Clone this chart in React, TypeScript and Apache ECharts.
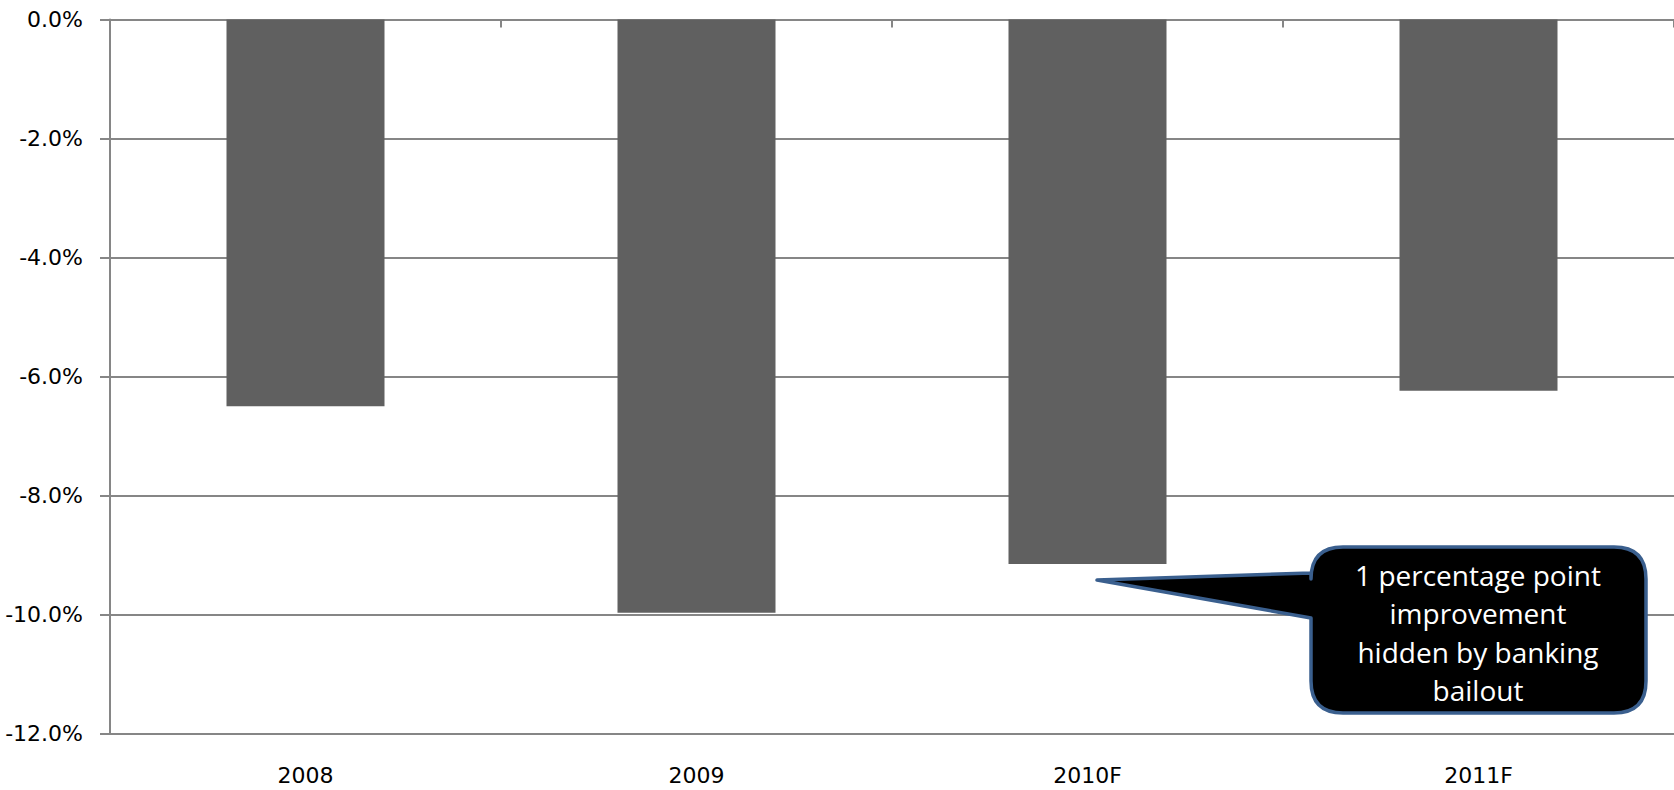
import React, { useEffect, useRef } from "react";
import * as echarts from "echarts";

// Budget balance by year, % of GDP
const categories: string[] = ["2008", "2009", "2010F", "2011F"];
const balance: number[] = [-6.5, -9.97, -9.15, -6.24];
const yTicks = { min: -12, max: 0, interval: 2 };
const calloutLines: string[] = [
  "1 percentage point",
  "improvement",
  "hidden by banking",
  "bailout",
];

// Speech-bubble outline: rounded box with a pointer toward the 2010F bar
function bubblePath(): string {
  const x0 = 1311, x1 = 1646, y0 = 547, y1 = 713, r = 32;
  const tipX = 1097, tipY = 580, baseTop = 573, baseBottom = 618;
  return [
    `M ${x0 + r} ${y0}`,
    `L ${x1 - r} ${y0}`,
    `Q ${x1} ${y0} ${x1} ${y0 + r}`,
    `L ${x1} ${y1 - r}`,
    `Q ${x1} ${y1} ${x1 - r} ${y1}`,
    `L ${x0 + r} ${y1}`,
    `Q ${x0} ${y1} ${x0} ${y1 - r}`,
    `L ${x0} ${baseBottom}`,
    `L ${tipX} ${tipY}`,
    `L ${x0} ${baseTop}`,
    `L ${x0} ${y0 + r}`,
    `Q ${x0} ${y0} ${x0 + r} ${y0}`,
    "Z",
  ].join(" ");
}

let shapeRegistered = false;

export default function App() {
  const ref = useRef<HTMLDivElement>(null);

  useEffect(() => {
    if (!ref.current) return;
    if (!shapeRegistered) {
      echarts.graphic.registerShape("bubble", echarts.graphic.extendPath(bubblePath(), {}));
      shapeRegistered = true;
    }
    const chart = echarts.init(ref.current, null, { renderer: "svg" });
    const axisGray = "#868686";
    const labelFont = '"DejaVu Sans", sans-serif';

    chart.setOption({
      animation: false,
      backgroundColor: "#ffffff",
      grid: { left: 110, top: 19.5, width: 1571, height: 714, containLabel: false },
      xAxis: [
        {
          type: "category",
          data: categories,
          position: "top",
          boundaryGap: true,
          axisLine: { show: true, lineStyle: { color: axisGray, width: 2 } },
          axisTick: { show: true, inside: true, length: 8, lineStyle: { color: axisGray, width: 2 } },
          axisLabel: { show: false },
          splitLine: { show: false },
        },
        {
          type: "category",
          data: categories,
          position: "bottom",
          boundaryGap: true,
          axisLine: { show: false },
          axisTick: { show: false },
          axisLabel: {
            show: true,
            margin: 31,
            color: "#000000",
            fontSize: 22,
            fontFamily: labelFont,
          },
          splitLine: { show: false },
        },
      ],
      yAxis: {
        type: "value",
        min: yTicks.min,
        max: yTicks.max,
        interval: yTicks.interval,
        axisLine: { show: true, lineStyle: { color: axisGray, width: 2 } },
        axisTick: { show: true, inside: false, length: 10, lineStyle: { color: axisGray, width: 2 } },
        axisLabel: {
          margin: 27,
          color: "#000000",
          fontSize: 22,
          fontFamily: labelFont,
          formatter: (v: number) => `${v.toFixed(1)}%`,
        },
        splitLine: { show: true, lineStyle: { color: axisGray, width: 2 } },
      },
      series: [
        {
          type: "bar",
          xAxisIndex: 0,
          data: balance,
          barWidth: 158,
          itemStyle: { color: "#606060" },
          z: 1,
        },
      ],
      graphic: [
        {
          type: "bubble",
          x: 0,
          y: 0,
          z: 100,
          style: { fill: "#000000", stroke: "#3a5f8e", lineWidth: 3.5, lineJoin: "round" },
        },
        {
          type: "text",
          z: 101,
          x: 1478,
          y: 632.5,
          style: {
            text: calloutLines.join("\n"),
            fill: "#ffffff",
            fontSize: 28,
            fontFamily: '"Open Sans", sans-serif',
            align: "center",
            verticalAlign: "middle",
            lineHeight: 38.5,
          },
        },
      ],
    });

    return () => chart.dispose();
  }, []);

  return (
    <div
      ref={ref}
      style={{ position: "fixed", left: 0, top: 0, width: 1674, height: 790, background: "#fff" }}
    />
  );
}
